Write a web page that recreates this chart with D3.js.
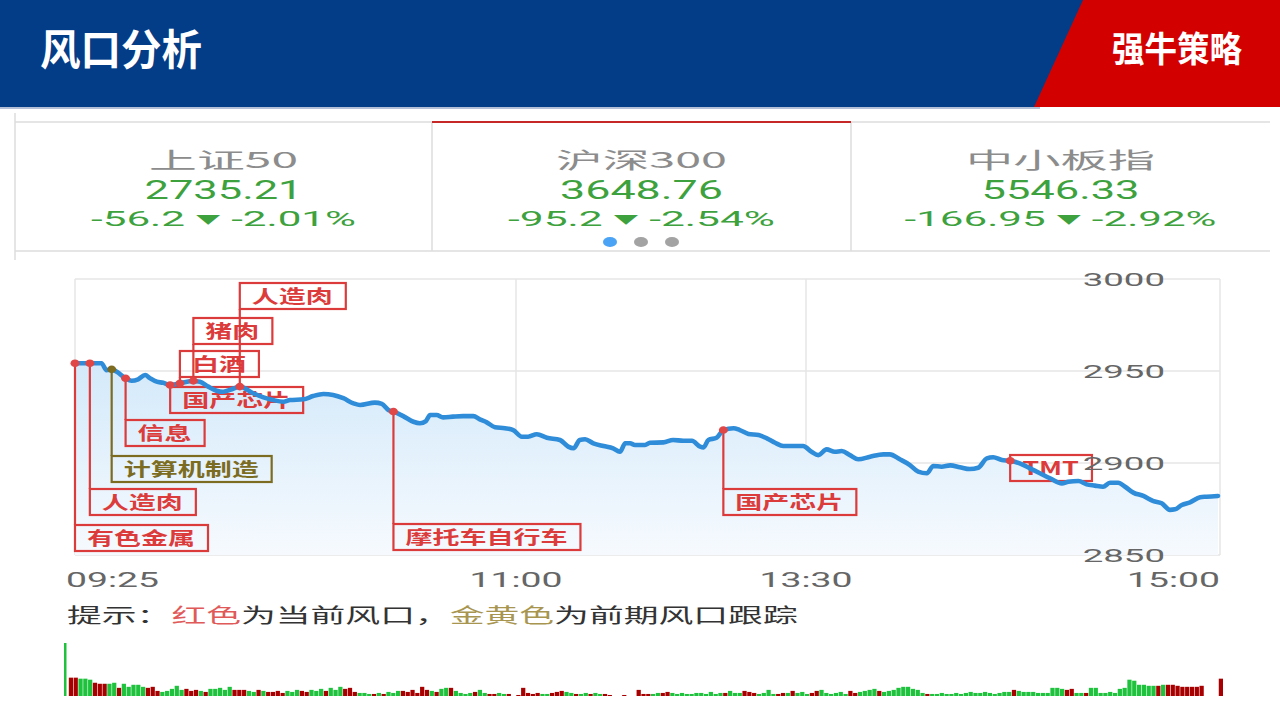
<!DOCTYPE html>
<html><head><meta charset="utf-8">
<script src="https://cdn.jsdelivr.net/npm/d3@7"></script>
<style>html,body{margin:0;padding:0;background:#fff;overflow:hidden}</style>
</head><body><svg id="c" width="1280" height="711"></svg>
<script>
// ---------------- DATA ----------------
const pageTitle = "风口分析";
const brandName = "强牛策略";
const indexNames = ["上证50", "沪深300", "中小板指"];
const indexValues = ["2735.21", "3648.76", "5546.33"];
const indexChanges = ["-56.2", "-95.2", "-166.95"];
const indexPercents = ["-2.01%", "-2.54%", "-2.92%"];

const timeTicks = [0, 95, 155, 245];              // trading minutes since 09:25
const timeTickLabels = ["09:25", "11:00", "13:30", "15:00"];
const priceTicks = [2850, 2900, 2950, 3000];

const minutes = [0,3.2,5.7,6.8,7.9,9.0,10.9,12.2,13.6,15.1,16.2,17.6,19.0,20.5,22.6,25.5,26.9,28.7,30.5,31.9,
33.8,35.5,38.4,40.6,42.7,44.9,46.3,49.2,51.3,53.5,55.6,57.8,60.0,61.4,64.6,66.1,67.5,68.6,70.7,72.9,
74.3,75.6,76.5,77.9,79.3,81.4,83.6,85.8,87.2,88.7,90.5,92.6,94.4,96.2,97.5,99.3,101.4,104.1,105.8,106.9,
108.2,109.3,111.0,113.1,115.1,116.5,117.6,118.6,119.6,121.7,122.7,125.5,127.5,129.6,131.4,133.1,133.8,134.8,136.5,137.9,
140.0,141.3,143.1,145.2,146.9,148.6,150.3,154.4,156.2,157.7,159.5,161.3,162.8,164.6,166.4,169.0,171.9,173.3,175.5,177.7,
179.5,181.4,182.8,184.6,186.5,188.6,190.8,192.6,194.5,195.9,197.8,199.6,201.7,203.9,206.1,208.3,210.9,212.3,214.5,216.3,
218.1,219.9,221.4,223.2,224.7,226.5,228.7,230.9,232.7,234.5,235.6,237.1,238.9,241.1,242.5,245.0];

const prices = [2954.2,2954.2,2954.2,2950.5,2950.9,2949.6,2946.0,2944.7,2945.5,2947.8,2946.0,2944.2,2943.6,2942.4,2943.3,2944.6,2944.2,2941.5,2939.3,2938.7,
2940.1,2941.5,2937.9,2935.7,2934.2,2933.3,2934.2,2934.6,2936.4,2937.5,2937.0,2935.2,2932.4,2931.5,2932.8,2932.1,2928.8,2927.9,2925.5,2922.4,
2921.6,2922.8,2926.1,2926.1,2924.8,2925.2,2925.5,2925.5,2923.7,2922.1,2919.4,2918.9,2917.9,2914.3,2914.3,2915.6,2913.7,2912.5,2908.9,2908.0,
2912.5,2912.9,2910.7,2909.2,2908.0,2906.1,2910.7,2910.7,2909.8,2909.8,2911.0,2911.2,2912.5,2912.1,2912.1,2908.9,2908.5,2912.5,2913.7,2917.9,
2918.9,2917.9,2915.8,2915.2,2913.4,2911.0,2909.2,2909.2,2906.1,2904.3,2907.4,2906.1,2906.5,2904.3,2902.0,2903.4,2904.7,2904.7,2902.0,2898.9,
2895.3,2894.4,2898.4,2898.0,2898.7,2897.7,2896.7,2897.4,2902.5,2903.1,2901.6,2901.2,2899.8,2897.1,2894.4,2891.7,2888.9,2889.8,2890.2,2888.4,
2887.7,2887.1,2889.3,2889.3,2887.1,2883.9,2882.1,2879.3,2878.1,2874.5,2874.8,2877.2,2878.6,2881.4,2881.7,2882.1];

const annoLabels  = ["有色金属","人造肉","计算机制造","信息","国产芯片","白酒","猪肉","人造肉","摩托车自行车","国产芯片","TMT"];
const annoMinutes = [0, 3.2, 7.9, 10.9, 20.5, 22.6, 25.5, 35.5, 68.6, 137.9, 199.6];
const annoKinds   = ["cur","cur","prev","cur","cur","cur","cur","cur","cur","cur","cur"];

const volumes = [52,18,18,17,17,16,13,12,12,12, 13,8,12,9,11,11,9,8,9,5, 4,5,7,10,6,7,5,6,5,4,
7,7,8,6,9,6,6,6,5,4, 6,5,4,4,5,3,5,4,6,5, 4,6,5,7,5,8,6,9,7,8, 4,3,3,2,2,3,2,4,3,5,
5,4,6,3,9,6,5,4,7,8, 8,5,3,2,3,4,6,3,2,2, 3,2,2,0,1,8,3,2,3,2, 2,3,4,5,4,3,2,2,3,2,
3,2,2,1,0,0,1,0,0,6, 2,2,2,3,3,4,3,2,3,2, 2,3,3,2,4,2,3,3,5,3, 3,5,4,3,2,3,6,2,2,3,
3,5,3,4,2,3,5,6,3,2, 3,4,2,5,3,4,5,6,7,5, 4,5,6,8,9,9,7,6,3,2, 2,2,3,2,2,3,2,3,4,3,
3,4,3,2,3,4,4,6,5,4, 4,4,3,3,3,8,8,7,6,7, 3,3,3,8,8,3,3,4,3,7, 8,16,15,11,11,10,10,10,11,11,
11,10,9,9,9,9,10,0,0,0,17];
const volumeDirs = ("grrgggrrrg"+"grgggggrrr"+"gggggrrrgr"+"gggggrrrgg"+"rgrrrrgggr"+"rgggrgggrr"+"rgggrgrggg"+
"rrrrrrgrgg"+"rggggrggrr"+"ggrgrrrrrg"+"grrrggrggr"+"ggrrggrggr"+"rrggrrgggg"+"gggggggrgg"+"grrrggggrr"+
"grgggrrggg"+"gggrrggggr"+"gggggggggr"+"gggggggggg"+"gggggggrgg"+"ggggggggrr"+"ggrggggggg"+"gggggggrgr"+
"rrrrrrrgggr").split("");

const hintParts = [["提示：","text"],["红色","cur"],["为当前风口，","text"],["金黄色","prev"],["为前期风口跟踪","text"]];

// ---------------- LAYOUT / STYLE ----------------
const W = 1280, H = 711;
const CJK = "'Noto Sans CJK SC','Noto Sans',sans-serif";
const LAT = "Roboto,'Noto Sans CJK SC',sans-serif";
const plot = {left: 75, right: 1220, top: 279, bottom: 555};
const xBreaks = [75, 516, 806, 1218];
const cardEdges = [15, 432, 851, 1270];
const cardTop = 122, cardBottom = 251;
const annoBoxTop = [525, 489, 456, 420, 387, 351, 318, 283, 524, 489, 455];
const colors = {cur: "#DC3B3B", prev: "#7C6C22", text: "#333333",
  curHint: "#E05A5A", prevHint: "#A8954F", line: "#2E8CD9", green: "#3DA23D",
  up: "#A80000", down: "#1FC23D"};

const svg = d3.select("#c");

function fit(sel, x, y, w, anchor) {
  sel.attr("x", 0).attr("y", 0).attr("text-anchor", anchor || "start");
  const nw = sel.node().getComputedTextLength();
  sel.attr("transform", `translate(${x},${y}) scale(${w / nw},1)`);
  return sel;
}

// ---------------- HEADER ----------------
svg.append("rect").attr("x", 0).attr("y", 0).attr("width", W).attr("height", 107).attr("fill", "#033C87");
svg.append("rect").attr("x", 0).attr("y", 107).attr("width", 1040).attr("height", 2).attr("fill", "#B4C0D8");
svg.append("path").attr("d", "M1083,0 L1280,0 L1280,107 L1034,107 Z").attr("fill", "#D30000");
fit(svg.append("text").text(pageTitle).attr("fill", "#fff").style("font-family", CJK)
  .style("font-weight", 700).style("font-size", "42px"), 40, 65, 162);
fit(svg.append("text").text(brandName).attr("fill", "#fff").style("font-family", CJK)
  .style("font-weight", 700).style("font-size", "35px"), 1112, 62, 130);

// ---------------- INDEX CARDS ----------------
const gray = "#DDDDDD";
svg.append("line").attr("x1", 15).attr("x2", 15).attr("y1", 113).attr("y2", 260).attr("stroke", gray).attr("stroke-width", 1.5);
svg.append("line").attr("x1", 15).attr("x2", 1270).attr("y1", cardTop).attr("y2", cardTop).attr("stroke", gray).attr("stroke-width", 1.5);
svg.append("line").attr("x1", 15).attr("x2", 1270).attr("y1", cardBottom).attr("y2", cardBottom).attr("stroke", gray).attr("stroke-width", 1.5);
[cardEdges[1], cardEdges[2]].forEach(x => svg.append("line").attr("x1", x).attr("x2", x)
  .attr("y1", cardTop).attr("y2", cardBottom).attr("stroke", gray).attr("stroke-width", 1.5));
svg.append("line").attr("x1", cardEdges[1]).attr("x2", cardEdges[2]).attr("y1", cardTop).attr("y2", cardTop)
  .attr("stroke", "#C62828").attr("stroke-width", 2);

const titleW = [149, 171, 189], valueW = [158, 163, 158], changeW = [265, 267, 312];
indexNames.forEach((name, i) => {
  const cx = (cardEdges[i] + cardEdges[i + 1]) / 2;
  fit(svg.append("text").text(name).attr("fill", "#8C8C8C").style("font-family", CJK)
    .style("font-size", "22px"), cx, 168, titleW[i], "middle");
  fit(svg.append("text").text(indexValues[i]).attr("fill", colors.green).style("font-family", LAT)
    .style("font-size", "26px"), cx, 199, valueW[i], "middle");
  const ch = svg.append("text").attr("fill", colors.green).style("font-family", LAT).style("font-size", "20px");
  ch.append("tspan").text(indexChanges[i] + " ");
  ch.append("tspan").text("▼").style("font-size", "12px").attr("dy", -2);
  ch.append("tspan").text(" " + indexPercents[i]).attr("dy", 2);
  fit(ch, cx, 226, changeW[i], "middle");
});
[["#4AA3F5", 610], ["#A3A3A3", 641], ["#A3A3A3", 672]].forEach(([c, x]) =>
  svg.append("ellipse").attr("cx", x).attr("cy", 242).attr("rx", 7).attr("ry", 5).attr("fill", c));

// ---------------- PRICE CHART ----------------
const x = d3.scaleLinear().domain(timeTicks).range(xBreaks);
const y = d3.scaleLinear().domain([2850, 3000]).range([plot.bottom, plot.top]);
const data = minutes.map((m, i) => ({m, v: prices[i]}));

// grid / frame
const grid = svg.append("g").attr("stroke", "#E6E6E6").attr("stroke-width", 1.5);
priceTicks.forEach(p => grid.append("line").attr("x1", plot.left).attr("x2", plot.right)
  .attr("y1", y(p)).attr("y2", y(p)));
[plot.left, x(95), x(155), plot.right].forEach(px => grid.append("line").attr("x1", px).attr("x2", px)
  .attr("y1", plot.top).attr("y2", plot.bottom));

// gradient area
const defs = svg.append("defs");
const grad = defs.append("linearGradient").attr("id", "ag").attr("gradientUnits", "userSpaceOnUse")
  .attr("x1", 0).attr("x2", 0).attr("y1", y(2955)).attr("y2", plot.bottom);
grad.append("stop").attr("offset", 0).attr("stop-color", "#D3E9FA");
grad.append("stop").attr("offset", 1).attr("stop-color", "#F6FAFE");
svg.append("path").datum(data).attr("fill", "url(#ag)")
  .attr("d", d3.area().x(d => x(d.m)).y0(plot.bottom).y1(d => y(d.v)).curve(d3.curveMonotoneX));

// annotations (lines + boxes)
const priceAt = m => {
  const i = d3.bisector(d => d.m).left(data, m);
  return data[Math.min(i, data.length - 1)].v;
};
const ann = svg.append("g");
annoLabels.forEach((lab, i) => {
  const c = colors[annoKinds[i]];
  const dx = x(annoMinutes[i]), dy = y(priceAt(annoMinutes[i]));
  const top = annoBoxTop[i], bh = 26;
  const t = ann.append("text").text(lab).attr("fill", c).style("font-family", CJK)
    .style("font-weight", 700).style("font-size", "18px");
  const tw = t.node().getComputedTextLength() * 1.5;
  const bw = tw + 25;
  t.attr("x", 0).attr("y", 0).attr("transform", `translate(${dx + 12},${top + 19.5}) scale(1.5,1)`);
  ann.append("rect").attr("x", dx).attr("y", top).attr("width", bw).attr("height", bh)
    .attr("fill", "none").attr("stroke", c).attr("stroke-width", 2.2);
  let y1 = null;
  if (top > dy) y1 = top; else if (top + bh < dy) y1 = top + bh;
  if (y1 !== null) ann.append("line").attr("x1", dx).attr("x2", dx).attr("y1", dy).attr("y2", y1)
    .attr("stroke", c).attr("stroke-width", 2.2);
});

// price line
svg.append("path").datum(data).attr("fill", "none").attr("stroke", colors.line).attr("stroke-width", 4.6)
  .attr("stroke-linejoin", "round").attr("stroke-linecap", "round")
  .attr("d", d3.line().x(d => x(d.m)).y(d => y(d.v)).curve(d3.curveMonotoneX));

// dots
annoLabels.forEach((lab, i) => {
  svg.append("ellipse").attr("cx", x(annoMinutes[i])).attr("cy", y(priceAt(annoMinutes[i])))
    .attr("rx", 4.5).attr("ry", 3.8).attr("fill", annoKinds[i] === "prev" ? colors.prev : "#E04646");
});

// y axis labels
const yAxis = svg.append("g").attr("transform", "translate(1165,0)")
  .call(d3.axisLeft(y).tickValues(priceTicks).tickSize(0).tickPadding(0).tickFormat(d3.format("d")));
yAxis.select(".domain").remove();
yAxis.selectAll("text").attr("x", 0).attr("dy", "0.36em").attr("fill", "#666")
  .style("font-family", LAT).style("font-size", "18.5px").attr("transform", "scale(1.98,1)");

// x axis labels
const xAxis = svg.append("g").attr("transform", `translate(0,${plot.bottom})`)
  .call(d3.axisBottom(x).tickValues(timeTicks).tickSize(0).tickPadding(0)
    .tickFormat((d, i) => timeTickLabels[i]));
xAxis.select(".domain").remove();
xAxis.selectAll(".tick").attr("transform", (d, i) =>
  `translate(${i === 0 ? 66 : i === timeTicks.length - 1 ? 1220 : x(d)},0)`);
xAxis.selectAll("text").attr("y", 32).attr("dy", 0).attr("fill", "#666")
  .style("font-family", LAT).style("font-size", "20.5px")
  .attr("text-anchor", (d, i) => i === 0 ? "start" : i === timeTicks.length - 1 ? "end" : "middle")
  .attr("transform", "scale(1.82,1)");

// hint
const hint = svg.append("text").style("font-family", CJK).style("font-size", "20px");
hintParts.forEach(([s, k]) => hint.append("tspan").text(s)
  .attr("fill", k === "cur" ? colors.curHint : k === "prev" ? colors.prevHint : colors.text));
fit(hint, 67, 623, 731);

// ---------------- VOLUME ----------------
const xv = d3.scaleBand().domain(d3.range(volumes.length)).range([64, 1223]).paddingInner(0.12);
const yv = d3.scaleLinear().domain([0, 52]).range([696, 643]);
svg.append("g").selectAll("rect").data(volumes).join("rect")
  .attr("x", (d, i) => xv(i)).attr("width", (d, i) => i === 0 ? 2.5 : xv.bandwidth())
  .attr("y", d => yv(d)).attr("height", d => yv(0) - yv(d))
  .attr("fill", (d, i) => volumeDirs[i] === "r" ? colors.up : colors.down);
</script></body></html>
